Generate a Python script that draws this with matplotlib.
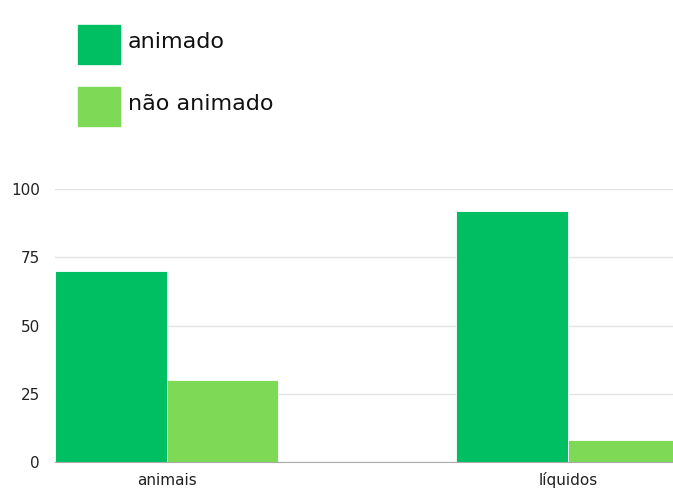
import numpy as np
import matplotlib
matplotlib.use("Agg")
import matplotlib.pyplot as plt
from matplotlib.patches import Rectangle

categories = ["animais", "líquidos"]
series_names = ["animado", "não animado"]
animado = [70, 92]
nao_animado = [30, 8]
yticks = [0, 25, 50, 75, 100]

dark_green = "#00BF63"
light_green = "#7ED957"

plt.rcParams['font.family'] = ['DejaVu Sans']

W, H = 673, 488
fig = plt.figure(figsize=(W/100, H/100), dpi=100)
ax = fig.add_axes([55/W, 1 - 462/H, 1 - 55/W, (462 - 189)/H])

x = np.arange(len(categories))
w = 0.278
b1 = ax.bar(x - w/2, animado, w, color=dark_green, label=series_names[0], edgecolor="white", linewidth=0.6)
b2 = ax.bar(x + w/2, nao_animado, w, color=light_green, label=series_names[1], edgecolor="white", linewidth=0.6)

ax.set_xlim(-w, 1.262)
ax.set_ylim(0, 100)
ax.set_yticks(yticks)
ax.set_xticks(x)
ax.set_xticklabels(categories, va="baseline")
ax.tick_params(length=0, labelsize=11, colors="#222222")
ax.tick_params(axis="y", pad=11)
ax.tick_params(axis="x", pad=16.5)
ax.grid(axis="y", color="#e3e3e3", linewidth=1)
ax.set_axisbelow(True)
for s in ["top", "right", "left"]:
    ax.spines[s].set_visible(False)
ax.spines["bottom"].set_color("#aaaaaa")

# legend drawn by hand (big squares)
for i, (name, col) in enumerate(zip(series_names, [dark_green, light_green])):
    top = 25 + i * 62
    fig.patches.append(Rectangle((78/W, 1 - (top + 39)/H), 42/W, 39/H,
                                 transform=fig.transFigure, color=col))
    fig.text(128/W, 1 - (top + 17)/H, name, fontsize=16, color="#111111",
             va="center", ha="left")

fig.savefig("out.png", dpi=100)
